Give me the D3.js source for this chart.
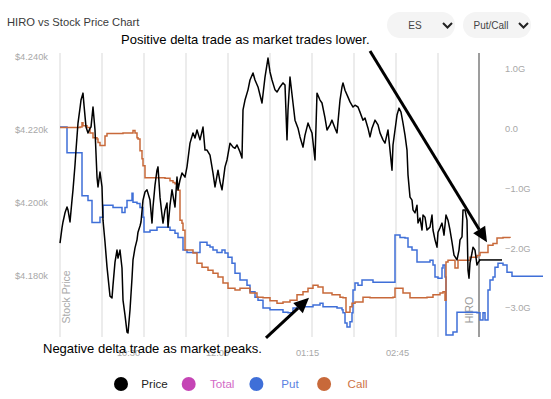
<!DOCTYPE html>
<html>
<head>
<meta charset="utf-8">
<script src="https://cdn.jsdelivr.net/npm/d3@7"></script>
<style>
body { margin: 0; background: #fff; }
svg { display: block; font-family: "Liberation Sans", Arial, Helvetica, sans-serif; }
.axis text { fill: #a8a8a8; font-size: 9.3px; }
</style>
</head>
<body>
<script>
// [minutes from session start, ES price]
var price = [[0,4189.0],[2,4193.2],[3,4194.8],[5,4197.3],[7,4198.9],[8,4198.1],[10,4194.8],[12,4200.8],[13,4203.6],[15,4210.4],[16,4214.5],[18,4221.9],[20,4226.0],[21,4228.2],[23,4230.1],[24,4226.8],[26,4220.8],[28,4219.2],[30,4220.5],[31,4220.8],[33,4226.3],[35,4220.0],[37,4207.1],[38,4204.4],[40,4208.5],[42,4204.4],[43,4195.3],[45,4189.3],[47,4182.5],[50,4174.5],[52,4174.0],[53,4177.5],[55,4183.8],[57,4187.1],[58,4184.9],[60,4187.1],[62,4182.2],[63,4173.4],[65,4169.3],[67,4164.6],[68,4164.4],[70,4170.7],[72,4179.4],[73,4184.4],[75,4187.7],[77,4189.9],[78,4192.0],[80,4193.7],[81,4194.8],[83,4200.8],[85,4203.0],[87,4203.6],[90,4200.8],[92,4194.5],[93,4198.9],[95,4204.9],[97,4209.0],[98,4209.9],[100,4201.6],[102,4196.7],[103,4194.5],[105,4198.1],[107,4200.0],[108,4193.4],[110,4199.4],[112,4203.6],[115,4198.9],[117,4207.1],[118,4203.6],[120,4206.3],[122,4208.2],[125,4207.1],[127,4209.9],[130,4216.4],[133,4219.2],[135,4217.8],[137,4220.0],[140,4217.3],[143,4220.8],[145,4214.5],[147,4214.5],[150,4213.1],[153,4208.2],[155,4204.4],[158,4209.0],[160,4205.8],[162,4203.6],[165,4209.9],[167,4211.8],[170,4216.4],[173,4215.3],[175,4215.0],[177,4215.9],[180,4214.0],[182,4212.3],[183,4225.5],[185,4228.2],[188,4231.0],[190,4233.7],[193,4235.6],[195,4233.7],[198,4231.8],[200,4229.6],[202,4227.4],[205,4234.5],[208,4239.7],[210,4235.9],[212,4233.7],[215,4231.0],[217,4230.4],[220,4231.8],[223,4232.9],[225,4232.3],[227,4217.3],[228,4225.5],[230,4234.5],[233,4227.4],[235,4222.7],[238,4220.5],[240,4218.1],[243,4215.3],[245,4218.6],[248,4221.9],[250,4220.5],[252,4219.2],[255,4211.8],[257,4230.1],[260,4228.2],[262,4227.4],[265,4223.3],[267,4220.0],[270,4221.4],[272,4222.7],[275,4220.5],[277,4219.2],[280,4228.2],[282,4231.8],[283,4232.9],[285,4230.9],[288,4229.0],[290,4227.7],[293,4226.3],[295,4226.8],[298,4226.3],[300,4224.9],[303,4222.7],[305,4223.3],[308,4220.5],[310,4218.1],[312,4220.5],[315,4222.7],[318,4221.4],[320,4219.2],[323,4217.3],[325,4216.4],[328,4220.0],[330,4214.5],[332,4209.0],[333,4215.9],[335,4220.0],[337,4224.1],[339,4226.0],[341,4224.9],[343,4221.9],[345,4218.6],[347,4214.5],[348,4207.7],[350,4201.6],[352,4200.8],[353,4198.1],[355,4197.3],[357,4199.4],[358,4194.5],[360,4195.9],[362,4192.6],[363,4196.7],[365,4196.1],[367,4192.6],[370,4193.4],[372,4196.7],[373,4192.6],[375,4189.9],[377,4187.9],[378,4192.0],[380,4193.2],[382,4194.5],[384,4191.2],[386,4196.7],[388,4195.3],[390,4192.6],[392,4189.3],[394,4185.7],[397,4184.4],[399,4187.1],[400,4189.9],[402,4190.7],[403,4198.1],[405,4198.1],[407,4195.3],[408,4181.6],[409,4179.4],[410,4183.6],[412,4186.3],[413,4187.9],[415,4187.1],[417,4183.0],[418,4183.6],[420,4184.4]];

// [minutes, put HIRO in billions]
var put = [[0,0.03],[7,-0.40],[22,-1.12],[28,-1.20],[32,-1.57],[40,-1.48],[43,-1.28],[50,-1.28],[53,-1.32],[58,-1.32],[62,-1.40],[65,-1.32],[67,-1.20],[72,-1.08],[73,-1.23],[77,-1.25],[80,-1.32],[83,-1.48],[84,-1.73],[90,-1.70],[97,-1.65],[105,-1.65],[110,-1.70],[115,-1.75],[118,-1.82],[123,-2.03],[127,-2.07],[137,-2.07],[140,-1.90],[147,-1.95],[150,-1.98],[153,-2.03],[157,-2.07],[162,-2.03],[165,-2.08],[168,-2.15],[172,-2.25],[175,-2.42],[180,-2.53],[187,-2.62],[190,-2.73],[195,-2.82],[198,-2.87],[203,-3.00],[210,-3.03],[223,-3.07],[228,-3.08],[233,-3.00],[243,-2.98],[253,-2.95],[260,-2.92],[263,-2.98],[277,-3.00],[282,-3.03],[283,-3.08],[285,-3.25],[287,-3.32],[290,-3.23],[292,-3.08],[293,-2.70],[295,-2.58],[298,-2.62],[302,-2.53],[313,-2.57],[335,-1.78],[340,-1.82],[345,-1.83],[348,-1.98],[352,-2.03],[357,-2.23],[365,-2.23],[370,-2.20],[373,-2.28],[375,-2.48],[378,-2.50],[382,-2.33],[383,-2.28],[385,-2.48],[386,-3.45],[393,-3.40],[397,-3.07],[402,-3.07],[410,-3.07],[417,-3.08],[420,-3.20],[423,-3.08],[425,-3.20],[428,-2.70],[430,-2.53],[433,-2.48],[435,-2.32],[438,-2.25],[443,-2.28],[447,-2.40],[452,-2.47],[483,-2.47]];

// [minutes, call HIRO in billions]
var call = [[0,0.02],[20,0.03],[22,0.10],[23,0.05],[27,0.02],[30,-0.07],[33,-0.15],[37,-0.17],[38,-0.23],[40,-0.28],[45,-0.12],[47,-0.08],[57,-0.08],[63,-0.07],[73,-0.03],[75,-0.07],[77,-0.15],[78,-0.17],[80,-0.37],[82,-0.50],[83,-0.62],[85,-0.82],[93,-0.82],[105,-0.83],[110,-0.87],[113,-0.90],[115,-0.92],[118,-1.03],[120,-1.53],[122,-1.58],[123,-1.70],[125,-2.03],[133,-2.08],[137,-2.25],[142,-2.32],[148,-2.37],[153,-2.42],[158,-2.48],[163,-2.58],[168,-2.67],[175,-2.70],[180,-2.67],[187,-2.67],[190,-2.75],[197,-2.82],[203,-2.83],[210,-2.88],[217,-2.92],[223,-2.90],[230,-2.87],[237,-2.78],[243,-2.73],[248,-2.67],[253,-2.62],[258,-2.65],[263,-2.75],[272,-2.78],[280,-2.82],[283,-2.83],[286,-3.07],[290,-2.98],[292,-2.92],[295,-2.90],[303,-2.82],[310,-2.83],[333,-2.82],[335,-2.67],[338,-2.67],[343,-2.75],[350,-2.83],[357,-2.83],[367,-2.82],[373,-2.78],[380,-2.75],[383,-2.73],[385,-2.87],[386,-2.23],[388,-2.20],[395,-2.33],[398,-2.20],[403,-2.20],[410,-2.15],[417,-2.12],[420,-2.07],[425,-2.07],[428,-1.95],[433,-1.92],[437,-1.83],[443,-1.82],[450,-1.83]];

var timeTicks = [68, 157, 247, 337];
var timeLabels = ["10:30", "12:00", "01:15", "02:45"];
var priceTicks = [4180, 4200, 4220, 4240];
var hiroTicks = [-3, -2, -1, 0, 1];
var hiroTime = 419;
var lastPrice = 4184.4;
var selectors = ["ES", "Put/Call"];
var legendItems = [
  {name: "Price", dot: "#000000", text: "#222222"},
  {name: "Total", dot: "#c545b5", text: "#d26ac6"},
  {name: "Put", dot: "#3f6fd8", text: "#5b82e2"},
  {name: "Call", dot: "#c8693a", text: "#cd7446"}
];
// arrows: [from minute, from HIRO, to minute, to HIRO]
var arrows = [[310, 1.30, 427, -1.90], [206, -3.50, 249, -2.83]];
var notes = ["Positive delta trade as market trades lower.", "Negative delta trade as market peaks."];

var width = 551, height = 399,
    plotTop = 53, plotBottom = 337;

var x = d3.scaleLinear().domain([0, 483]).range([60, 543]);
var y = d3.scaleLinear().domain([4180, 4240]).range([276, 57]);
var yHiro = d3.scaleLinear().domain([-3, 1]).range([308, 69]);

var svg = d3.select("body").append("svg")
    .attr("width", width)
    .attr("height", height);

svg.append("text")
    .attr("x", 7).attr("y", 26)
    .attr("fill", "#3a3a3a")
    .style("font-size", "11.2px")
    .text("HIRO vs Stock Price Chart");

// selector pills
var pill = svg.selectAll(".pill").data(selectors).enter().append("g")
    .attr("class", "pill")
    .attr("transform", function(d, i) { return "translate(" + (387 + i * 76) + ",12)"; });
pill.append("rect")
    .attr("width", 68).attr("height", 26).attr("rx", 13)
    .attr("fill", "#f4f4f4");
pill.append("text")
    .attr("x", 28).attr("y", 13).attr("dy", "0.35em")
    .attr("text-anchor", "middle")
    .attr("fill", "#444")
    .style("font-size", "10px")
    .text(function(d) { return d; });
pill.append("path")
    .attr("d", "M56,11L60.5,15.5L65,11")
    .attr("fill", "none").attr("stroke", "#222").attr("stroke-width", 2);

// grid
svg.append("g").selectAll("line")
    .data(d3.range(0, 379, 42))
  .enter().append("line")
    .attr("x1", x).attr("x2", x)
    .attr("y1", plotTop).attr("y2", plotBottom)
    .attr("stroke", "#e6e6e6").attr("stroke-width", 1.5);

svg.append("line")
    .attr("x1", x(hiroTime)).attr("x2", x(hiroTime))
    .attr("y1", plotTop).attr("y2", plotBottom)
    .attr("stroke", "#858585").attr("stroke-width", 1.6);

// axes
var yAxis = d3.axisLeft(y)
    .tickValues(priceTicks)
    .tickSize(0).tickPadding(5)
    .tickFormat(function(d) { return "$" + (d / 1000).toFixed(3) + "k"; });

var hiroAxis = d3.axisRight(yHiro)
    .tickValues(hiroTicks)
    .tickSize(0).tickPadding(5)
    .tickFormat(function(d) { return d === 0 ? "0.0" : d3.format(".1f")(d) + "G"; });

var xAxis = d3.axisBottom(x)
    .tickValues(timeTicks)
    .tickSize(0).tickPadding(12)
    .tickFormat(function(d, i) { return timeLabels[i]; });

svg.append("g").attr("class", "axis").attr("transform", "translate(53,0)").call(yAxis);
svg.append("g").attr("class", "axis").attr("transform", "translate(500,0)").call(hiroAxis);
svg.append("g").attr("class", "axis").attr("transform", "translate(0," + plotBottom + ")").call(xAxis);
svg.selectAll(".axis .domain").remove();
svg.selectAll(".axis text").attr("font-family", null);

svg.append("text")
    .attr("transform", "translate(70,297) rotate(-90)")
    .attr("text-anchor", "middle")
    .attr("fill", "#aaa")
    .style("font-size", "10.5px")
    .text("Stock Price");

svg.append("text")
    .attr("transform", "translate(" + (x(hiroTime) - 6) + ",310) rotate(-90)")
    .attr("text-anchor", "middle")
    .attr("fill", "#999")
    .style("font-size", "10.8px")
    .text("HIRO");

// series
var hiroLine = d3.line()
    .curve(d3.curveStepAfter)
    .x(function(d) { return x(d[0]); })
    .y(function(d) { return yHiro(d[1]); });

var priceLine = d3.line()
    .x(function(d) { return x(d[0]); })
    .y(function(d) { return y(d[1]); });

svg.append("path").datum(put)
    .attr("d", hiroLine)
    .attr("fill", "none").attr("stroke", "#3f6fd8").attr("stroke-width", 1.5);

svg.append("path").datum(call)
    .attr("d", hiroLine)
    .attr("fill", "none").attr("stroke", "#c8693a").attr("stroke-width", 1.5);

svg.append("path").datum(price)
    .attr("d", priceLine)
    .attr("fill", "none").attr("stroke", "#000").attr("stroke-width", 1.5)
    .attr("stroke-linejoin", "round");

svg.append("line")
    .attr("x1", x(hiroTime)).attr("x2", x(hiroTime + 23))
    .attr("y1", y(lastPrice)).attr("y2", y(lastPrice))
    .attr("stroke", "#000").attr("stroke-width", 1.5);

// annotations
arrows.forEach(function(a) {
  var x1 = x(a[0]), y1 = yHiro(a[1]), x2 = x(a[2]), y2 = yHiro(a[3]);
  var ang = Math.atan2(y2 - y1, x2 - x1), len = 15, half = 7;
  var bx = x2 - len * Math.cos(ang), by = y2 - len * Math.sin(ang);
  svg.append("line")
      .attr("x1", x1).attr("y1", y1).attr("x2", bx).attr("y2", by)
      .attr("stroke", "#000").attr("stroke-width", 3);
  svg.append("path")
      .attr("d", "M" + x2 + "," + y2 +
        "L" + (bx + half * Math.sin(ang)) + "," + (by - half * Math.cos(ang)) +
        "L" + (bx - half * Math.sin(ang)) + "," + (by + half * Math.cos(ang)) + "Z")
      .attr("fill", "#000");
});

svg.append("text")
    .attr("x", 121).attr("y", 44)
    .style("font-size", "13px")
    .text(notes[0]);

svg.append("text")
    .attr("x", 43).attr("y", 353)
    .style("font-size", "13px")
    .text(notes[1]);

// legend
var legend = svg.selectAll(".legend").data(legendItems).enter().append("g")
    .attr("class", "legend")
    .attr("transform", function(d, i) { return "translate(" + (121 + i * 67.7) + ",384)"; });
legend.append("circle")
    .attr("r", 7)
    .attr("fill", function(d) { return d.dot; });
legend.append("text")
    .attr("x", 33.5).attr("dy", "0.35em")
    .attr("text-anchor", "middle")
    .attr("fill", function(d) { return d.text; })
    .style("font-size", "11.6px")
    .text(function(d) { return d.name; });
</script>
</body>
</html>
